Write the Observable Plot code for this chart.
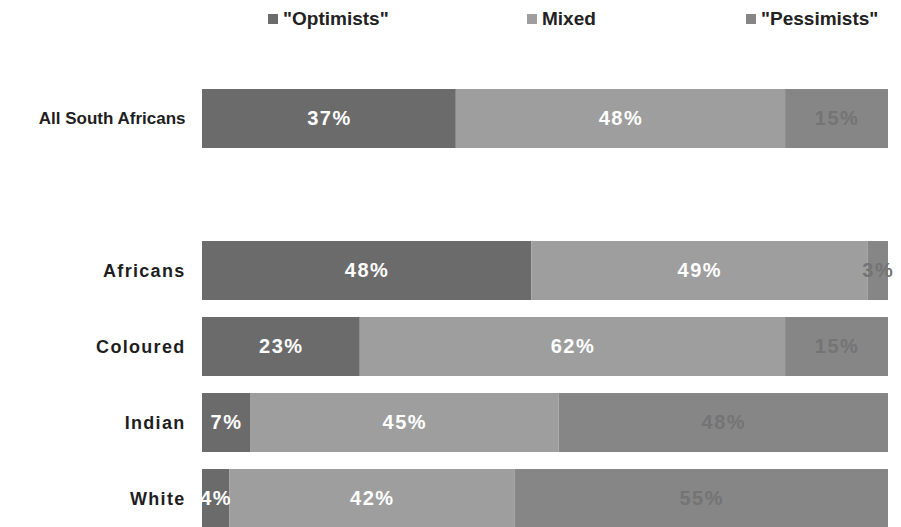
<!DOCTYPE html>
<html>
<head>
<meta charset="utf-8">
<script src="https://cdn.jsdelivr.net/npm/d3@7"></script>
<script src="https://cdn.jsdelivr.net/npm/@observablehq/plot@0.6"></script>
<style>
  html, body { margin: 0; padding: 0; background: #fff; overflow: hidden; }
  body { width: 901px; height: 527px; font-family: "Liberation Sans", Arial, sans-serif; }
  #legend { position: relative; height: 40px; }
  #legend .item { position: absolute; top: 8px; display: flex; align-items: center;
    font-weight: bold; font-size: 19px; color: #222; white-space: nowrap; }
  #legend .swatch { width: 10px; height: 10px; margin-right: 5px; }
</style>
</head>
<body>
<div id="legend"></div>
<div id="chart"></div>
<script>
// Population groups, in drawing order; "" is an empty row separating the total
const groups = ["All South Africans", "", "Africans", "Coloured", "Indian", "White"];
const optimists = [37, null, 48, 23, 7, 4];
const mixed = [48, null, 49, 62, 45, 42];
const pessimists = [15, null, 3, 15, 48, 55];

const seriesNames = ['"Optimists"', "Mixed", '"Pessimists"'];
const seriesColors = ["#6b6b6b", "#9e9e9e", "#868686"];
const legendLeft = [268, 527, 746];

// Long-format table for the stacked bars
const rows = [];
groups.forEach((g, i) => {
  [optimists, mixed, pessimists].forEach((arr, s) => {
    if (arr[i] != null) rows.push({group: g, series: seriesNames[s], value: arr[i]});
  });
});

// Legend above the chart
const legend = document.getElementById("legend");
seriesNames.forEach((name, i) => {
  const item = document.createElement("div");
  item.className = "item";
  item.style.left = legendLeft[i] + "px";
  const sw = document.createElement("span");
  sw.className = "swatch";
  sw.style.background = seriesColors[i];
  item.appendChild(sw);
  item.appendChild(document.createTextNode(name));
  legend.appendChild(item);
});

const stackOpts = {x: "value", y: "group", z: "series", offset: "normalize", order: seriesNames};
const pess = seriesNames[2];

const chart = Plot.plot({
  width: 901,
  height: 520,
  marginLeft: 202,
  marginRight: 13,
  marginTop: 30,
  marginBottom: 13,
  style: {fontFamily: "'Liberation Sans', Arial, sans-serif", background: "#fff"},
  x: {domain: [0, 1], axis: null},
  y: {domain: groups, padding: 0.23, label: null, axis: null},
  color: {domain: seriesNames, range: seriesColors},
  marks: [
    Plot.barX(rows, Plot.stackX({...stackOpts, fill: "series"})),
    Plot.text(rows, Plot.stackX({...stackOpts,
      text: d => d.series === pess ? "" : d.value + "%",
      fill: "#ffffff", fontSize: 20, fontWeight: "bold"})),
    Plot.text(rows, Plot.stackX({...stackOpts,
      text: d => d.series === pess ? d.value + "%" : "",
      fill: "#747474", fontSize: 20, fontWeight: "bold"})),
    Plot.axisY([groups[0]], {tickSize: 0, tickPadding: 17, fontSize: 17, fontWeight: "bold", fill: "#1e1e1e", label: null}),
    Plot.axisY(groups.slice(2), {tickSize: 0, tickPadding: 17, fontSize: 18, fontWeight: "bold", fill: "#1e1e1e", label: null})
  ]
});

// Wider tracking for the group names and the percentage labels
const svg = d3.select(chart);
svg.selectAll("text")
  .filter(function() { return groups.slice(2).includes(this.textContent); })
  .style("letter-spacing", "1.3px");
svg.selectAll("text")
  .filter(function() { return /%$/.test(this.textContent); })
  .style("letter-spacing", "1.5px");

document.getElementById("chart").appendChild(chart);
</script>
</body>
</html>
